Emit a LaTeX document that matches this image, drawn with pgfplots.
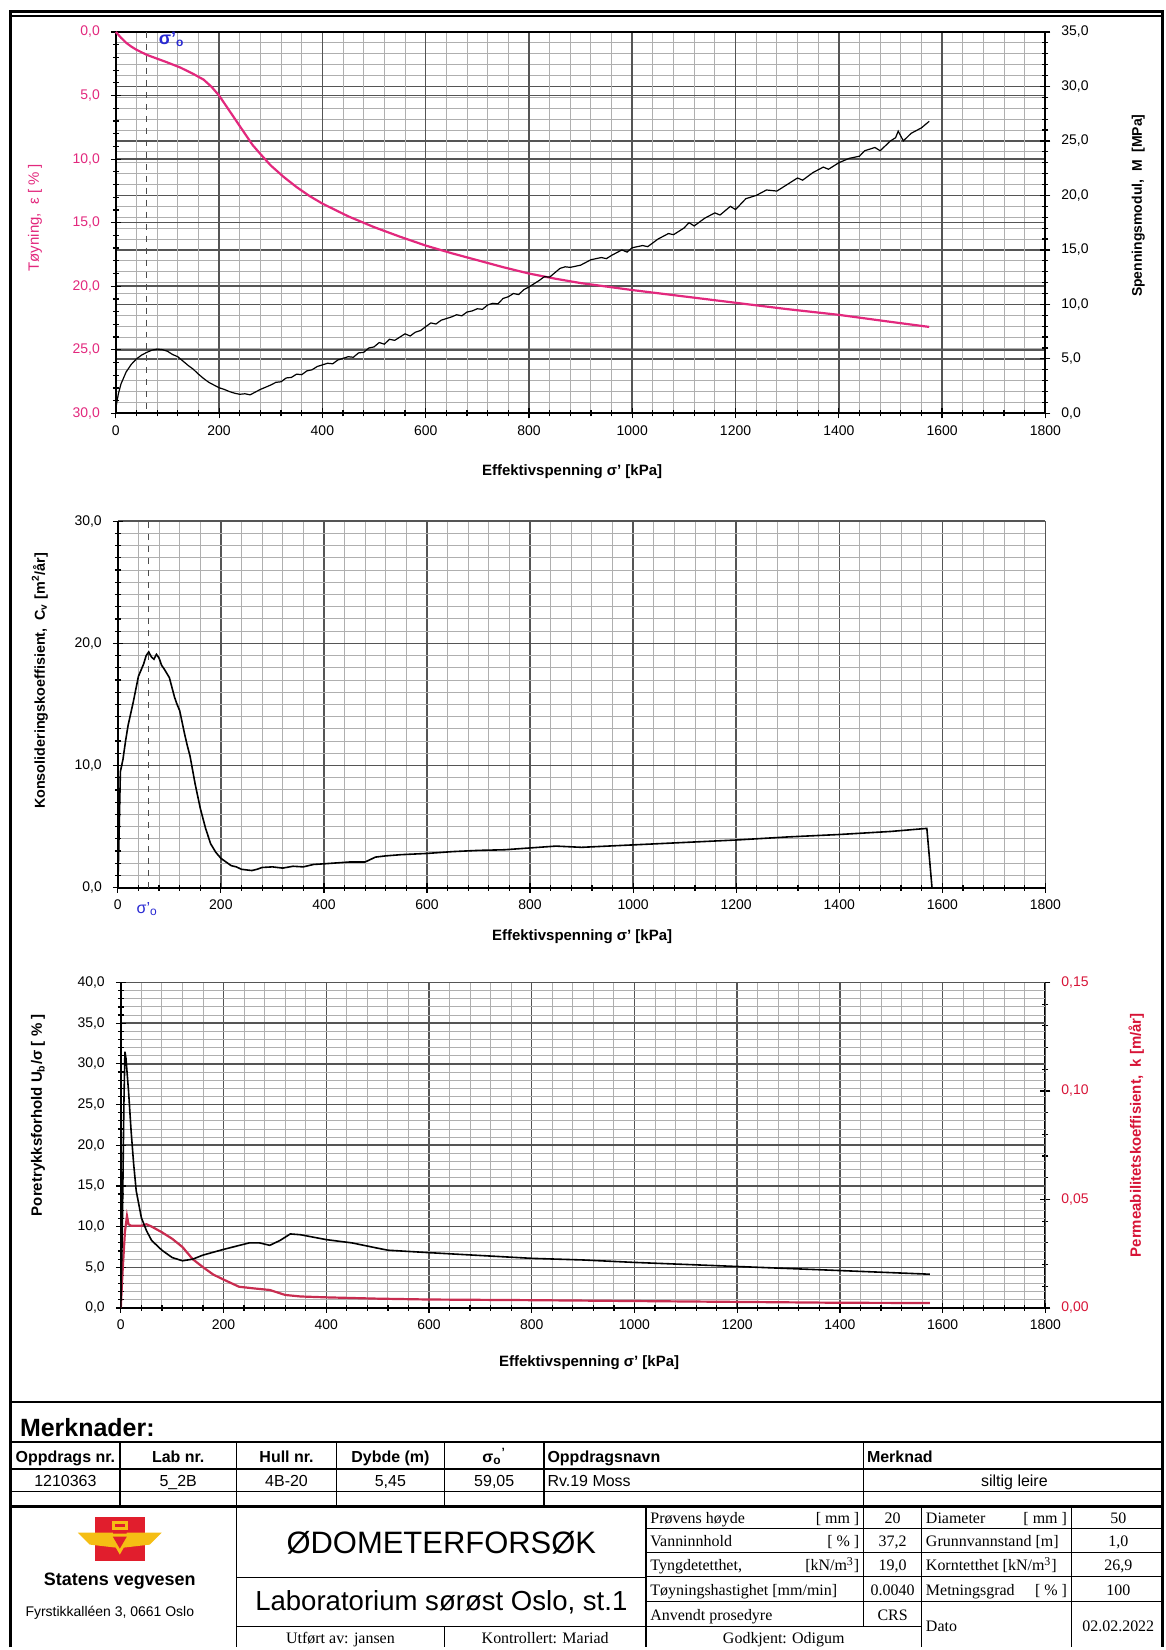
\documentclass[border=0pt]{standalone}
\usepackage{fontspec}
\setmainfont{Liberation Sans}
\newfontfamily\serif{Liberation Serif}
\usepackage{pgfplots}
\pgfplotsset{compat=1.18}
\usepackage{pgfplotstable}

\definecolor{pinkc}{RGB}{226,40,125}
\definecolor{redc}{RGB}{200,45,80}
\definecolor{redlab}{RGB}{215,20,55}
\definecolor{majg}{RGB}{85,85,85}
\definecolor{ming}{RGB}{175,175,175}
\definecolor{sigblue}{RGB}{40,40,210}
\definecolor{logored}{RGB}{225,30,45}
\definecolor{logoyel}{RGB}{245,190,20}

\pgfplotstableread{
s e
0 0
10 0.45
20 0.85
30 1.15
40 1.4
50 1.6
60 1.8
80 2.1
100 2.4
125 2.8
150 3.3
170 3.75
185 4.3
200 5.0
215 5.9
230 6.8
250 8.0
265 8.9
280 9.6
300 10.5
325 11.4
350 12.2
375 12.9
400 13.5
450 14.5
500 15.35
550 16.1
600 16.8
650 17.4
700 17.95
750 18.5
800 19.0
850 19.4
900 19.75
1000 20.3
1100 20.8
1200 21.3
1300 21.8
1400 22.25
1500 22.8
1575 23.2
}\strain

\pgfplotstableread{
s M
0 0.5
5 1.8
10 2.7
20 3.8
30 4.5
40 5.0
50 5.35
60 5.6
70 5.8
80 5.9
90 5.85
100 5.7
110 5.4
120 5.2
130 4.8
140 4.4
150 4.05
160 3.6
170 3.2
180 2.85
190 2.6
200 2.35
210 2.2
220 2.0
230 1.85
240 1.75
250 1.8
260 1.7
270 1.95
280 2.2
290 2.4
300 2.6
310 2.85
320 2.9
330 3.25
340 3.3
350 3.6
360 3.55
370 3.9
380 4.0
390 4.3
400 4.45
410 4.6
420 4.55
430 4.9
440 5.05
450 5.2
460 5.15
470 5.55
480 5.6
490 6.0
500 6.1
510 6.5
520 6.35
530 6.8
540 6.7
550 7.0
560 7.3
570 7.1
580 7.45
590 7.6
600 7.95
610 8.3
620 8.2
630 8.55
640 8.7
650 8.85
660 9.05
670 8.95
680 9.3
690 9.4
700 9.6
710 9.55
720 9.95
730 10.1
740 10.05
750 10.55
760 10.7
770 11.0
780 10.9
790 11.35
800 11.6
810 11.9
820 12.2
830 12.55
840 12.5
850 12.9
860 13.3
870 13.45
880 13.4
890 13.5
900 13.6
920 14.1
940 14.3
950 14.2
960 14.5
980 15.0
990 14.8
1000 15.2
1020 15.4
1030 15.3
1050 16.0
1070 16.5
1080 16.4
1100 17.0
1110 17.5
1120 17.2
1140 17.9
1160 18.4
1170 18.2
1190 19.0
1200 18.7
1210 19.2
1220 19.7
1240 20.0
1260 20.5
1280 20.4
1300 21.0
1320 21.6
1330 21.4
1350 22.1
1370 22.6
1380 22.4
1400 23.0
1420 23.4
1440 23.6
1450 24.1
1470 24.4
1480 24.1
1500 25.0
1510 25.3
1515 25.9
1525 25.0
1540 25.7
1560 26.2
1575 26.8
}\modul

\pgfplotstableread{
s cv
0 0
2 3.5
5 9.5
10 10.5
15 12.0
20 13.3
30 15.2
40 17.3
50 18.3
55 19.0
60 19.3
65 18.9
70 18.7
75 19.1
80 18.8
85 18.2
90 17.9
100 17.2
110 15.6
115 15.0
120 14.5
130 12.5
135 11.6
140 10.8
150 8.5
160 6.5
170 4.9
180 3.6
190 2.9
200 2.4
210 2.1
220 1.8
230 1.7
240 1.5
250 1.45
260 1.4
270 1.5
280 1.65
300 1.7
320 1.6
340 1.75
360 1.7
380 1.9
400 1.95
450 2.1
480 2.1
500 2.5
520 2.6
550 2.7
600 2.8
650 2.95
700 3.05
750 3.1
800 3.25
850 3.4
900 3.3
1000 3.5
1100 3.7
1200 3.9
1300 4.15
1400 4.35
1500 4.6
1570 4.85
1580 0
}\cvtab

\pgfplotstableread{
s u
0 0
3 10
6 25
8 31.5
10 30.7
15 26.7
20 21.8
25 17.7
30 14.4
40 11.1
50 9.5
60 8.3
80 7.1
100 6.2
120 5.8
140 6.0
160 6.5
200 7.2
250 8.0
270 8.0
290 7.7
310 8.3
330 9.1
350 9.0
400 8.4
450 8.0
500 7.35
520 7.1
600 6.8
700 6.45
800 6.1
900 5.9
1000 5.6
1200 5.1
1400 4.6
1575 4.15
}\utab

\pgfplotstableread{
s k
0 0
3 0.015
8 0.035
12 0.0424
15 0.0386
20 0.0379
40 0.0379
50 0.0386
60 0.0375
80 0.0349
100 0.0319
120 0.0281
140 0.0225
160 0.0188
180 0.0154
200 0.0131
230 0.0098
260 0.0090
290 0.0083
320 0.0060
350 0.0053
400 0.0049
500 0.0043
600 0.0039
800 0.0036
1000 0.0032
1200 0.0028
1400 0.0024
1575 0.0023
}\ktab

\pgfplotsset{
  base/.style={
    scale only axis, anchor=south west,
    xmin=0, xmax=1800,
    /pgf/number format/assume math mode=true,
    tick label style={font=\fontsize{7}{8}\selectfont},
    xticklabel style={/pgf/number format/1000 sep={}},
    yticklabel style={/pgf/number format/fixed, /pgf/number format/fixed zerofill, /pgf/number format/precision=1, /pgf/number format/use comma},
    major tick length=5pt, minor tick length=3pt,
    tick align=center,
    major grid style={majg, line width=0.75pt},
    minor grid style={ming, line width=0.45pt},
    axis line style={black, line width=0.9pt},
    every tick/.style={black, line width=0.6pt},
    xtick={0,200,...,1800}, minor x tick num=4,
  },
}

\begin{document}
\begin{tikzpicture}
\begin{scope}[x=0.5pt,y=-0.5pt]
\useasboundingbox (0,0) rectangle (1167,1650);
\end{scope}

% ---------- TOP: right axis (M) ----------
\begin{axis}[base, at={(58pt,-207pt)}, width=465.5pt, height=191pt,
  axis x line=none, axis y line*=right,
  ymin=0, ymax=35, ytick={0,5,...,35}, minor y tick num=4,
  ymajorgrids, yminorgrids,
  yticklabel style={xshift=2pt}]
\end{axis}
% ---------- TOP: left axis (strain) ----------
\begin{axis}[base, at={(58pt,-207pt)}, width=465.5pt, height=191pt,
  ymin=0, ymax=30, y dir=reverse, ytick={0,5,...,30}, minor y tick num=4,
  xtick pos=left, ytick pos=left,
  xmajorgrids, xminorgrids, ymajorgrids,
  yticklabel style={text=pinkc, xshift=-2pt}, clip=false]
\addplot[black!70, dashed, line width=0.6pt] coordinates {(59.05,0) (59.05,30)};
\addplot[pinkc, line width=1.1pt] table[x=s, y=e] {\strain};
\addplot[black, line width=0.6pt] table[x=s, y expr={30-\thisrow{M}*30/35}] {\modul};
\node[text=sigblue, font=\bfseries\fontsize{9}{10}\selectfont] at (axis cs:108,0.6) {σ'\textsubscript{o}};
\end{axis}

% ---------- MIDDLE ----------
\begin{axis}[base, at={(59pt,-444.5pt)}, width=464.5pt, height=183.5pt,
  ymin=0, ymax=30, ytick={0,10,20,30}, minor y tick num=9,
  axis x line*=bottom, axis y line*=left,
  grid=both, yticklabel style={xshift=-2pt}, clip=false]
\addplot[black!70, dashed, line width=0.6pt] coordinates {(59.05,0) (59.05,30)};
\addplot[black, line width=0.8pt] table[x=s, y=cv] {\cvtab};
\node[text=sigblue, font=\fontsize{8}{9}\selectfont, anchor=north] at (axis cs:57,0) [yshift=-4pt] {σ'\textsubscript{o}};
\end{axis}

% ---------- BOTTOM: right axis (k) ----------
\begin{axis}[base, at={(60.5pt,-655pt)}, width=463pt, height=163pt,
  axis x line=none, axis y line*=right,
  ymin=0, ymax=0.15, ytick={0,0.05,0.10,0.15}, minor y tick num=4,
  yticklabel style={text=redlab, xshift=2pt, /pgf/number format/precision=2}]
\end{axis}
% ---------- BOTTOM: left axis (U/sigma) ----------
\begin{axis}[base, at={(60.5pt,-655pt)}, width=463pt, height=163pt,
  ymin=0, ymax=40, ytick={0,5,...,40}, minor y tick num=4,
  axis x line*=bottom, axis y line*=left,
  grid=both, yticklabel style={xshift=-2pt}]
\addplot[redc, line width=1.1pt] table[x=s, y expr={\thisrow{k}*800/3}] {\ktab};
\addplot[black, line width=0.8pt] table[x=s, y=u] {\utab};
\end{axis}

\begin{scope}[x=0.5pt,y=-0.5pt]
% axis titles
\node[rotate=90, text=pinkc, font=\fontsize{7.5}{9}\selectfont] at (35,218) {Tøyning,~~ε [ \% ]};
\node[rotate=90, font=\bfseries\fontsize{7}{8}\selectfont] at (1140,206) {Spenningsmodul,~~M~~[MPa]};
\node[font=\bfseries\fontsize{7.5}{9}\selectfont] at (573,472) {Effektivspenning σ' [kPa]};
\node[rotate=90, font=\bfseries\fontsize{7.2}{9}\selectfont] at (40,682) {Konsolideringskoeffisient,~~C\textsubscript{v}~[m\textsuperscript{2}/år]};
\node[font=\bfseries\fontsize{7.5}{9}\selectfont] at (583,938) {Effektivspenning σ' [kPa]};
\node[rotate=90, font=\bfseries\fontsize{7.5}{9}\selectfont] at (38,1117) {Poretrykksforhold U\textsubscript{b}/σ [ \% ]};
\node[rotate=90, text=redlab, font=\bfseries\fontsize{7.5}{9}\selectfont] at (1138,1137) {Permeabilitetskoeffisient,~~k [m/år]};
\node[font=\bfseries\fontsize{7.5}{9}\selectfont] at (590,1365) {Effektivspenning σ' [kPa]};

% frame
\draw[line width=1.5pt] (11,1650) -- (11,12) -- (1164,12) -- (1164,1650);
\draw[line width=0.6pt] (11,16) -- (1164,16);
\draw[line width=1.2pt] (11,1404) -- (1164,1404);
\node[anchor=west, font=\bfseries\fontsize{12.5}{14}\selectfont] at (13,1430) {Merknader:};
\draw[line width=1.2pt] (11,1444) -- (1164,1444);
% header table
\draw[line width=0.8pt] (11,1471) -- (1164,1471);
\draw[line width=0.8pt] (11,1494) -- (1164,1494);
\draw[line width=1.2pt] (11,1509) -- (1164,1509);
\foreach \xx in {120,237,337,445,545,865} \draw[line width=0.8pt] (\xx,1444) -- (\xx,1509);
\begin{scope}[every node/.style={text height=1.6ex, text depth=0.4ex, inner sep=1pt}]
\begin{scope}[font=\bfseries\fontsize{8}{9}\selectfont]
\node at (65.5,1458) {Oppdrags nr.};
\node at (178.5,1458) {Lab nr.};
\node at (287,1458) {Hull nr.};
\node at (391,1458) {Dybde (m)};
\node at (495,1458) {σ\textsubscript{o}\textsuperscript{'}};
\node[anchor=west] at (546,1458) {Oppdragsnavn};
\node[anchor=west] at (866,1458) {Merknad};
\end{scope}
\begin{scope}[font=\fontsize{8}{9}\selectfont]
\node at (65.5,1482) {1210363};
\node at (178.5,1482) {5\_2B};
\node at (287,1482) {4B-20};
\node at (391,1482) {5,45};
\node at (495,1482) {59,05};
\node[anchor=west] at (546,1482) {Rv.19 Moss};
\node at (1016,1482) {siltig leire};
\end{scope}
\begin{scope}[font=\serif\fontsize{8}{9}\selectfont]
\node[anchor=west] at (649,1520) {Prøvens høyde};
\node[anchor=east] at (863,1520) {[ mm ]};
\node at (894,1520) {20};
\node[anchor=west] at (925,1520) {Diameter};
\node[anchor=east] at (1071,1520) {[ mm ]};
\node at (1120,1520) {50};
\node[anchor=west] at (649,1543) {Vanninnhold};
\node[anchor=east] at (863,1543) {[ \% ]};
\node at (894,1543) {37,2};
\node[anchor=west] at (925,1543) {Grunnvannstand [m]};
\node at (1120,1543) {1,0};
\node[anchor=west] at (649,1567) {Tyngdetetthet,};
\node[anchor=east] at (863,1567) {[kN/m\textsuperscript{3}]};
\node at (894,1567) {19,0};
\node[anchor=west] at (925,1567) {Korntetthet [kN/m\textsuperscript{3}]};
\node at (1120,1567) {26,9};
\node[anchor=west] at (649,1591.5) {Tøyningshastighet [mm/min]};
\node at (894,1591.5) {0.0040};
\node[anchor=west] at (925,1591.5) {Metningsgrad};
\node[anchor=east] at (1071,1591.5) {[ \% ]};
\node at (1120,1591.5) {100};
\node[anchor=west] at (649,1616.5) {Anvendt prosedyre};
\node at (894,1616.5) {CRS};
\node[anchor=west] at (925,1628) {Dato};
\node at (1120,1628) {02.02.2022};
\node at (785,1640) {Godkjent: Odigum};
\node at (341,1640) {Utført av: jansen};
\node at (546,1640) {Kontrollert: Mariad};
\end{scope}
\end{scope}
% lower section
\draw[line width=0.8pt] (237,1509) -- (237,1650);
\draw[line width=0.8pt] (647,1509) -- (647,1650);
\draw[line width=0.8pt] (237,1580) -- (647,1580);
\draw[line width=0.8pt] (237,1629) -- (647,1629);
\draw[line width=0.8pt] (445,1629) -- (445,1650);
\foreach \yy in {1531,1555,1579,1604} \draw[line width=0.8pt] (647,\yy) -- (1164,\yy);
\draw[line width=0.8pt] (647,1629) -- (923,1629);
\draw[line width=0.8pt] (865,1509) -- (865,1629);
\draw[line width=0.8pt] (923,1509) -- (923,1650);
\draw[line width=0.8pt] (1073,1509) -- (1073,1650);

\node[font=\fontsize{15.5}{17}\selectfont] at (442,1545) {ØDOMETERFORSØK};
\node[font=\fontsize{13.8}{16}\selectfont] at (442,1605) {Laboratorium sørøst Oslo, st.1};

% logo
\fill[logored] (95,1519) rectangle (145,1563);
\fill[logoyel] (78,1535) -- (113,1535) -- (116,1550) -- (90,1547) -- cycle;
\fill[logoyel] (162,1535) -- (127,1535) -- (124,1550) -- (150,1547) -- cycle;
\fill[logoyel] (108,1536) -- (132,1536) -- (120,1557) -- cycle;
\fill[logored] (113,1539) -- (127,1539) -- (120,1551) -- cycle;
\fill[logoyel] (112,1523) rectangle (128,1532);
\fill[logored] (115,1526) rectangle (125,1529);
\node[font=\bfseries\fontsize{9}{10}\selectfont] at (120,1584) {Statens vegvesen};
\node[font=\fontsize{7}{8}\selectfont] at (110,1615) {Fyrstikkalléen 3, 0661 Oslo};
\end{scope}
\end{tikzpicture}
\end{document}
